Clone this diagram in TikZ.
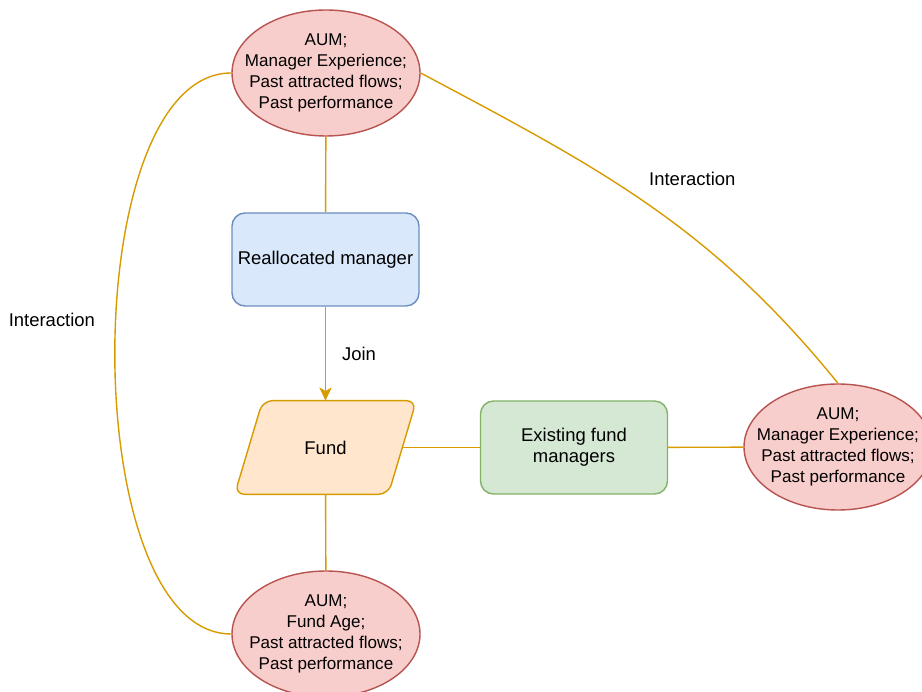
\documentclass[tikz,border=0pt]{standalone}
\usepackage{fontspec}
\setmainfont{Liberation Sans}
\usetikzlibrary{shapes.geometric,arrows.meta,backgrounds}
\definecolor{redfill}{HTML}{F8CECC}
\definecolor{redline}{HTML}{B85450}
\definecolor{bluefill}{HTML}{DAE8FC}
\definecolor{blueline}{HTML}{6C8EBF}
\definecolor{orfill}{HTML}{FFE6CC}
\definecolor{orline}{HTML}{D79B00}
\definecolor{grfill}{HTML}{D5E8D4}
\definecolor{grline}{HTML}{82B366}
\definecolor{linkcol}{HTML}{D79B00}
\begin{document}
\begin{tikzpicture}[
        font=\fontsize{10.5}{12.1}\selectfont,
        attr/.style={ellipse, draw=redline, fill=redfill, line width=0.8pt, minimum width=3.76cm, minimum height=2.52cm, inner xsep=-0.45cm, inner ysep=0pt, align=center, font=\fontsize{9.7}{12.1}\selectfont},
        box/.style={rectangle, rounded corners=0.26cm, line width=0.8pt, minimum width=3.74cm, minimum height=1.86cm, inner sep=0pt, align=center},
        link/.style={draw=linkcol, line width=0.8pt}
    ]
                \useasboundingbox (0,0) rectangle (18.44,13.82);
                \node[attr] (top) at (6.52,12.36) {AUM;\\Manager Experience;\\Past attracted flows;\\Past performance};
                \node[box, draw=blueline, fill=bluefill] (realloc) at (6.51,8.63) {Reallocated manager};
                \node[minimum width=3.06cm, minimum height=1.86cm, inner sep=0pt] (fund) at (6.51,4.87) {Fund};
                \node[box, draw=grline, fill=grfill] (exist) at (11.48,4.87) {Existing fund\\managers};
                \node[attr] (right) at (16.76,4.88) {AUM;\\Manager Experience;\\Past attracted flows;\\Past performance};
                \node[attr] (bot) at (6.52,1.14) {AUM;\\Fund Age;\\Past attracted flows;\\Past performance};
                \begin{scope}[on background layer]
                \draw[draw=orline, fill=orfill, line width=0.8pt, rounded corners=0.2cm] ([xshift=-0.28cm]fund.south west) -- ([xshift=0.28cm]fund.north west) -- ([xshift=0.28cm]fund.north east) -- ([xshift=-0.28cm]fund.south east) -- cycle;
                \end{scope}
                \draw[link] (top) -- (realloc);
                \draw[link, -{Stealth[length=7.5pt, width=7pt, inset=2pt]}] (realloc) -- node[right=0.2cm] {Join} (fund);
                \draw[link] (fund) -- (exist);
                \draw[link] (exist) -- (right);
                \draw[link] (fund) -- (bot);
                \draw[link] (top.west) to[out=180, in=180, looseness=0.71] node[pos=0.46, left=0.28cm] {Interaction} (bot.west);
                \draw[link] (top.east) to[out=-28, in=129] node[pos=0.5, anchor=south west, xshift=-0.12cm, yshift=0.25cm] {Interaction} (right.north);
            \end{tikzpicture}
\end{document}
